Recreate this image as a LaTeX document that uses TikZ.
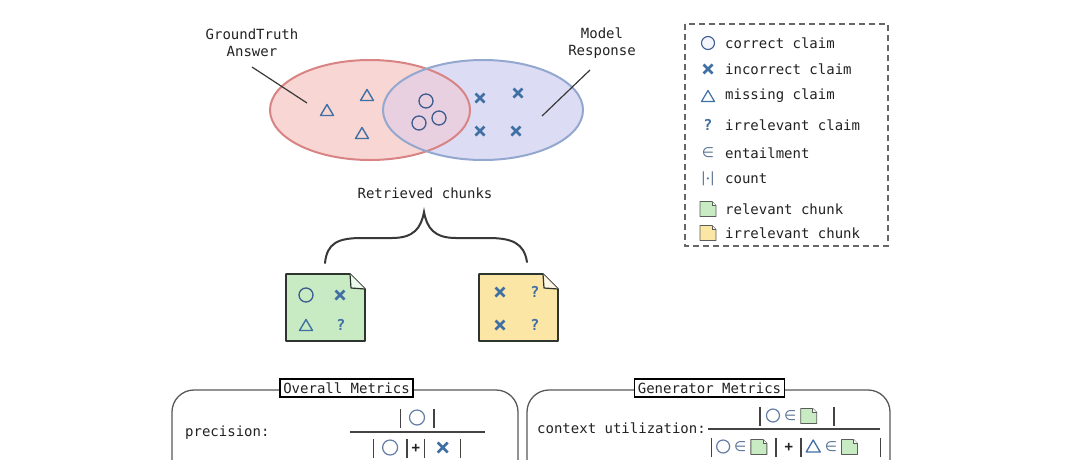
\documentclass[tikz,border=0pt]{standalone}
\usepackage{fontspec}
\setmainfont{DejaVu Sans Mono}
\newfontfamily\symfont{DejaVu Sans}
\usetikzlibrary{shapes.misc,shapes.geometric}
\definecolor{symblue}{HTML}{3F6FA3}
\definecolor{circblue}{HTML}{3D5C8F}
\definecolor{redfill}{HTML}{F8D6D4}
\definecolor{redline}{HTML}{D98484}
\definecolor{bluefill}{HTML}{DCDDF5}
\definecolor{blueline}{HTML}{93A7CF}
\definecolor{mixfill}{HTML}{E9D0E0}
\definecolor{docgreen}{HTML}{C8EBC4}
\definecolor{docyellow}{HTML}{FBE6A5}
\definecolor{docline}{HTML}{2E352E}
\definecolor{ink}{HTML}{222222}
\definecolor{memb}{HTML}{5B7596}
\definecolor{legline}{HTML}{666666}
% symbol boxes
\newsavebox\SymCirc
\sbox\SymCirc{\tikz\draw[circblue,line width=1.3pt] (0,0) circle (7pt);}
\newsavebox\SymCross
\sbox\SymCross{\tikz\draw[symblue,line width=2.6pt] (-4.5pt,-4.5pt)--(4.5pt,4.5pt) (-4.5pt,4.5pt)--(4.5pt,-4.5pt);}
\newsavebox\SymTri
\sbox\SymTri{\tikz\draw[symblue,line width=1.4pt,line join=round] (-6.5pt,-5pt)--(6.5pt,-5pt)--(0,6pt)--cycle;}
\newsavebox\LegCirc
\sbox\LegCirc{\tikz\draw[circblue,fill=blue!4,line width=1.1pt] (0,0) circle (6.5pt);}
\newsavebox\LegTri
\sbox\LegTri{\tikz\draw[symblue,line width=1.2pt,line join=round] (-6.5pt,-5pt)--(6.5pt,-5pt)--(0,6pt)--cycle;}
\newsavebox\FCirc
\sbox\FCirc{\tikz[baseline=-5pt]\draw[circblue!80,line width=1.2pt] (0,0) circle (7.5pt);}
\newsavebox\FCircS
\sbox\FCircS{\tikz[baseline=-5pt]\draw[circblue!80,line width=1.2pt] (0,0) circle (6.5pt);}
\newsavebox\FCross
\sbox\FCross{\tikz[baseline=-5pt]\draw[symblue,line width=2.6pt] (-5pt,-5pt)--(5pt,5pt) (-5pt,5pt)--(5pt,-5pt);}
\newsavebox\FTri
\sbox\FTri{\tikz[baseline=-5pt]\draw[symblue,line width=1.3pt,line join=round] (-7pt,-5.5pt)--(7pt,-5.5pt)--(0,6.5pt)--cycle;}
\newsavebox\DocG
\sbox\DocG{\tikz[baseline=3pt]{\draw[docline!80,fill=docgreen,line width=0.9pt,line join=round] (0,0)--(0,15pt)--(12pt,15pt)--(16pt,11pt)--(16pt,0)--cycle; \draw[docline!80,line width=0.7pt,fill=white] (12pt,15pt)--(12pt,11pt)--(16pt,11pt);}}
\newsavebox\DocY
\sbox\DocY{\tikz[baseline=3pt]{\draw[docline!80,fill=docyellow,line width=0.9pt,line join=round] (0,0)--(0,15pt)--(12pt,15pt)--(16pt,11pt)--(16pt,0)--cycle; \draw[docline!80,line width=0.7pt,fill=white] (12pt,15pt)--(12pt,11pt)--(16pt,11pt);}}
\newcommand\vb{\textcolor{ink!85}{\rule[-5pt]{1.4pt}{19pt}}}
\newcommand\mem{{\symfont\textcolor{memb}{∈}}}
\newcommand\plusop{{\bfseries +}}
\begin{document}
\begin{tikzpicture}[x=1pt,y=-1pt,
  font=\fontsize{14}{17}\selectfont, text=ink,
  sym/.style={inner sep=0pt},
  qmark/.style={inner sep=0pt,text=symblue,font=\fontsize{15}{17}\selectfont\bfseries},
  pointer/.style={draw=ink!90,line width=1.2pt},
  doc/.style={draw=docline,line width=1.6pt,line join=round},
  fold/.style={draw=docline,line width=1.2pt,fill=white!70!docgreen,line join=round},
  mbox/.style={draw=ink!75,line width=1.3pt,rounded corners=22pt},
  mtitle/.style={draw=black,fill=white,line width=1.5pt,inner xsep=3.5pt,inner ysep=1pt,minimum height=18pt},
  legtext/.style={anchor=west,inner sep=0pt}]
\useasboundingbox (0,0) rectangle (1079,459);
\clip (0,0) rectangle (1079,459);
\fill[white] (0,0) rectangle (1079,459);

% ---- Venn diagram ----
\fill[redfill] (370,110) ellipse (100 and 50);
\fill[bluefill] (483,110) ellipse (100 and 50);
\begin{scope}
  \clip (370,110) ellipse (100 and 50);
  \fill[mixfill] (483,110) ellipse (100 and 50);
\end{scope}
\draw[redline,line width=2pt] (370,110) ellipse (100 and 50);
\draw[blueline,line width=2pt] (483,110) ellipse (100 and 50);

\node[align=center,inner sep=0pt] (gtlabel) at (252,43) {GroundTruth\\Answer};
\node[align=center,inner sep=0pt] (mrlabel) at (602,43) {Model\\Response};
\coordinate (gta) at (252,67);
\coordinate (gtb) at (307,103);
\coordinate (mra) at (590,70);
\coordinate (mrb) at (542,116);
\draw[pointer] (gta) -- (gtb);
\draw[pointer] (mra) -- (mrb);

\node[sym] (t1) at (327,110) {\usebox\SymTri};
\node[sym] (t2) at (367,95) {\usebox\SymTri};
\node[sym] (t3) at (362,133) {\usebox\SymTri};
\node[sym] (c1) at (426,101) {\usebox\SymCirc};
\node[sym] (c2) at (419,123) {\usebox\SymCirc};
\node[sym] (c3) at (439,118) {\usebox\SymCirc};
\node[sym] (x1) at (480,98) {\usebox\SymCross};
\node[sym] (x2) at (518,93) {\usebox\SymCross};
\node[sym] (x3) at (480,131) {\usebox\SymCross};
\node[sym] (x4) at (516,131) {\usebox\SymCross};

% ---- Legend ----
\draw[legline,line width=1.3pt,dash pattern=on 6pt off 4pt] (685,24) rectangle (888,246);
\node[sym] (l1) at (708,43) {\usebox\LegCirc};
\node[legtext] (l1t) at (725,43) {correct claim};
\node[sym] (l2) at (708,69) {\usebox\SymCross};
\node[legtext] (l2t) at (725,69) {incorrect claim};
\node[sym] (l3) at (708,96) {\usebox\LegTri};
\node[legtext] (l3t) at (725,96) {missing claim};
\node[qmark] (l4) at (708,125) {?};
\node[legtext] (l4t) at (725,125) {irrelevant claim};
\node[sym] (l5) at (708,153) {\symfont\textcolor{memb}{∈}};
\node[legtext] (l5t) at (725,153) {entailment};
\node[sym] (l6) at (708,179) {\symfont\textcolor{memb}{|}\textcolor{symblue}{\raisebox{1pt}{\scriptsize •}}\textcolor{memb}{|}};
\node[legtext] (l6t) at (725,179) {count};
\node[sym] (l7) at (708,209) {\usebox\DocG};
\node[legtext] (l7t) at (725,209) {relevant chunk};
\node[sym] (l8) at (708,233) {\usebox\DocY};
\node[legtext] (l8t) at (725,233) {irrelevant chunk};

% ---- Retrieved chunks ----
\node[inner sep=0pt] (rc) at (425,193) {Retrieved chunks};
\coordinate (bl) at (325,263);
\coordinate (bp) at (424,212);
\coordinate (br) at (527,262);
\draw[ink!90,line width=2pt,line cap=round]
  (bl) .. controls (327,243) and (338,238) .. (362,238)
  -- (392,238) .. controls (414,238) and (421,228) .. (bp)
  .. controls (427,228) and (434,238) .. (456,238)
  -- (488,238) .. controls (512,238) and (524,243) .. (br);

% green document
\draw[doc,fill=docgreen] (286,274) -- (350,274) -- (365,289) -- (365,341) -- (286,341) -- cycle;
\draw[fold] (350,274) -- (351,288) -- (365,289);
\node[sym] (g1) at (306,295) {\usebox\SymCirc};
\node[sym] (g2) at (340,295) {\usebox\SymCross};
\node[sym] (g3) at (306,325) {\usebox\SymTri};
\node[qmark] (g4) at (341,325) {?};

% yellow document
\draw[doc,fill=docyellow] (479,274) -- (543,274) -- (558,289) -- (558,341) -- (479,341) -- cycle;
\draw[fold,fill=white!70!docyellow] (543,274) -- (544,288) -- (558,289);
\node[sym] (y1) at (500,292) {\usebox\SymCross};
\node[qmark] (y2) at (535,292) {?};
\node[sym] (y3) at (500,325) {\usebox\SymCross};
\node[qmark] (y4) at (535,325) {?};

% ---- Overall metrics ----
\draw[mbox] (172,520) -- (172,390) -- (518,390) -- (518,520);
\node[mtitle] (om) at (346.5,388) {Overall Metrics};
\node[anchor=west,inner sep=0pt] (prec) at (185,433) {precision:};
\node[inner sep=0pt] (pnum) at (417,418) {\vb\hspace{8pt}\usebox\FCirc\hspace{8pt}\vb};
\draw[ink!85,line width=1.3pt] (350,432) -- (485,432);
\node[inner sep=0pt] (pden) at (417,448) {\vb\hspace{8pt}\usebox\FCirc\hspace{8pt}\vb\hspace{4pt}\plusop\hspace{4pt}\vb\hspace{11pt}\usebox\FCross\hspace{11pt}\vb};

% ---- Generator metrics ----
\draw[mbox] (527,520) -- (527,390) -- (890,390) -- (890,520);
\node[mtitle] (gm) at (709.5,388) {Generator Metrics};
\node[anchor=west,inner sep=0pt] (cu) at (537,428) {context utilization:};
\node[inner sep=0pt] (gnum) at (797,416) {\vb\hspace{5pt}\usebox\FCircS\hspace{4pt}\mem\hspace{4pt}\usebox\DocG\hspace{16pt}\vb};
\draw[ink!85,line width=1.3pt] (708,429) -- (880,429);
\node[inner sep=0pt] (gden) at (796,447) {\vb\hspace{4pt}\usebox\FCircS\hspace{4pt}\mem\hspace{4pt}\usebox\DocG\hspace{8pt}\vb\hspace{8pt}\plusop\hspace{7pt}\vb\hspace{4pt}\usebox\FTri\hspace{4pt}\mem\hspace{4pt}\usebox\DocG\hspace{22pt}\vb};
\end{tikzpicture}
\end{document}
